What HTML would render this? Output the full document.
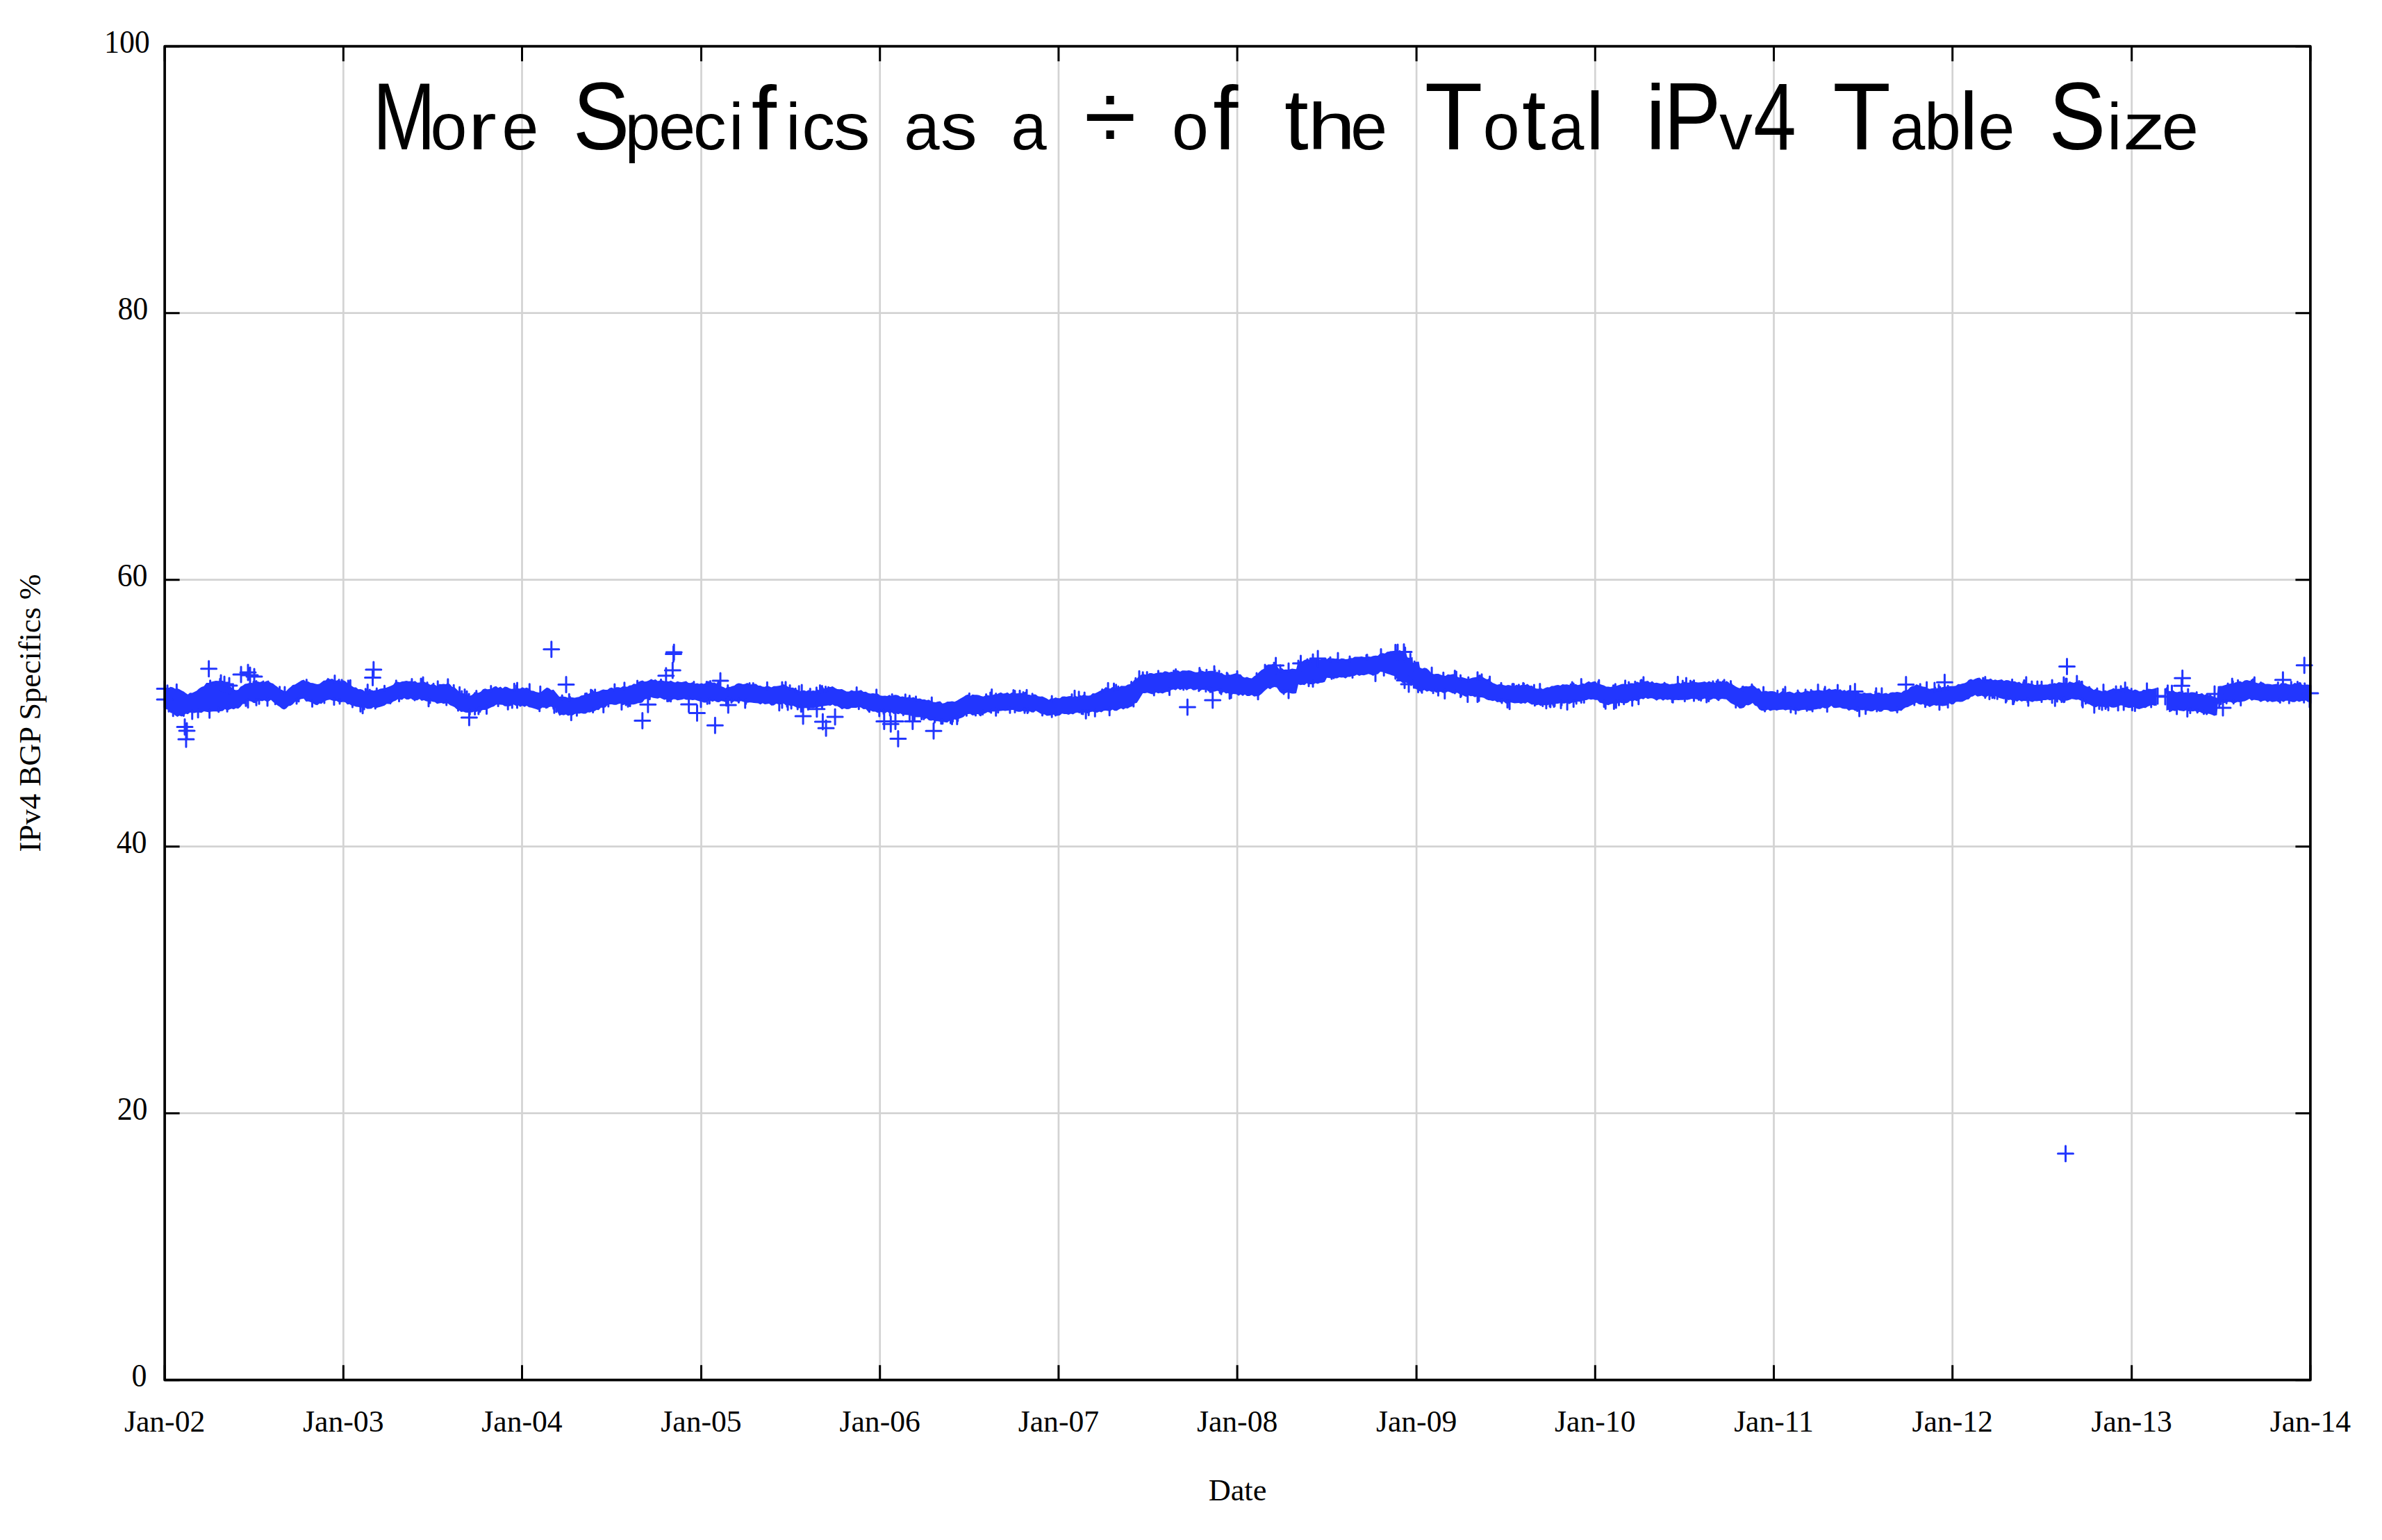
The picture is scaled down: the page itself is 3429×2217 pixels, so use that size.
<!DOCTYPE html>
<html><head><meta charset="utf-8"><title>More Specifics as a % of the Total IPv4 Table Size</title>
<style>html,body{margin:0;padding:0;background:#fff;width:3429px;height:2217px;overflow:hidden}svg{display:block}</style></head><body>
<svg width="3429" height="2217" viewBox="0 0 3429 2217">
<rect width="3429" height="2217" fill="#fff"/>
<path d="M494.3 66.7V1986.7M751.5 66.7V1986.7M1009.5 66.7V1986.7M1266.7 66.7V1986.7M1523.9 66.7V1986.7M1781.1 66.7V1986.7M2039.1 66.7V1986.7M2296.3 66.7V1986.7M2553.5 66.7V1986.7M2810.7 66.7V1986.7M3068.7 66.7V1986.7M237.1 1602.7H3325.9M237.1 1218.7H3325.9M237.1 834.7H3325.9M237.1 450.7H3325.9" stroke="#d3d3d3" stroke-width="2.7" fill="none"/>
<g font-family="Liberation Sans, Arial, sans-serif" fill="#000" stroke="#000" stroke-width="0.0" stroke-linejoin="round" text-anchor="middle">
<text y="215"><tspan x="582.0" font-size="137" textLength="90.3" lengthAdjust="spacingAndGlyphs">M</tspan><tspan x="646.0" font-size="95" textLength="52.8" lengthAdjust="spacingAndGlyphs">o</tspan><tspan x="694.3" font-size="95" textLength="41.1" lengthAdjust="spacingAndGlyphs">r</tspan><tspan x="748.9" font-size="95" textLength="52.8" lengthAdjust="spacingAndGlyphs">e</tspan></text>
<text y="215"><tspan x="865.4" font-size="137" textLength="81.5" lengthAdjust="spacingAndGlyphs">S</tspan><tspan x="925.2" font-size="95" textLength="50.7" lengthAdjust="spacingAndGlyphs">p</tspan><tspan x="974.6" font-size="95" textLength="52.8" lengthAdjust="spacingAndGlyphs">e</tspan><tspan x="1021.7" font-size="95" textLength="47.5" lengthAdjust="spacingAndGlyphs">c</tspan><tspan x="1059.8" font-size="95" textLength="21.1" lengthAdjust="spacingAndGlyphs">i</tspan><tspan x="1099.8" font-size="130" textLength="36.1" lengthAdjust="spacingAndGlyphs">f</tspan><tspan x="1141.7" font-size="95" textLength="21.1" lengthAdjust="spacingAndGlyphs">i</tspan><tspan x="1178.2" font-size="95" textLength="47.4" lengthAdjust="spacingAndGlyphs">c</tspan><tspan x="1226.1" font-size="95" textLength="52.9" lengthAdjust="spacingAndGlyphs">s</tspan></text>
<text y="215"><tspan x="1327.0" font-size="95" textLength="51.1" lengthAdjust="spacingAndGlyphs">a</tspan><tspan x="1380.3" font-size="95" textLength="53.0" lengthAdjust="spacingAndGlyphs">s</tspan></text>
<text y="215"><tspan x="1481.1" font-size="95" textLength="51.2" lengthAdjust="spacingAndGlyphs">a</tspan></text>
<text y="215"><tspan x="1598.0" font-size="137" textLength="75.2" lengthAdjust="spacingAndGlyphs">÷</tspan></text>
<text y="215"><tspan x="1713.4" font-size="95" textLength="52.8" lengthAdjust="spacingAndGlyphs">o</tspan><tspan x="1764.4" font-size="130" textLength="36.1" lengthAdjust="spacingAndGlyphs">f</tspan></text>
<text y="215"><tspan x="1866.3" font-size="125" textLength="34.7" lengthAdjust="spacingAndGlyphs">t</tspan><tspan x="1916.9" font-size="95" textLength="68.7" lengthAdjust="spacingAndGlyphs">h</tspan><tspan x="1970.7" font-size="95" textLength="52.8" lengthAdjust="spacingAndGlyphs">e</tspan></text>
<text y="215"><tspan x="2092.7" font-size="137" textLength="83.7" lengthAdjust="spacingAndGlyphs">T</tspan><tspan x="2161.1" font-size="95" textLength="52.8" lengthAdjust="spacingAndGlyphs">o</tspan><tspan x="2208.4" font-size="125" textLength="34.7" lengthAdjust="spacingAndGlyphs">t</tspan><tspan x="2255.2" font-size="95" textLength="50.1" lengthAdjust="spacingAndGlyphs">a</tspan><tspan x="2295.9" font-size="117" textLength="26.0" lengthAdjust="spacingAndGlyphs">l</tspan></text>
<text y="215"><tspan x="2383.5" font-size="132" textLength="29.3" lengthAdjust="spacingAndGlyphs">i</tspan><tspan x="2436.2" font-size="137" textLength="82.7" lengthAdjust="spacingAndGlyphs">P</tspan><tspan x="2498.9" font-size="95" textLength="47.5" lengthAdjust="spacingAndGlyphs">v</tspan><tspan x="2554.9" font-size="137" textLength="61.4" lengthAdjust="spacingAndGlyphs">4</tspan></text>
<text y="215"><tspan x="2680.2" font-size="137" textLength="83.7" lengthAdjust="spacingAndGlyphs">T</tspan><tspan x="2745.9" font-size="95" textLength="50.5" lengthAdjust="spacingAndGlyphs">a</tspan><tspan x="2796.5" font-size="95" textLength="52.8" lengthAdjust="spacingAndGlyphs">b</tspan><tspan x="2834.1" font-size="117" textLength="26.0" lengthAdjust="spacingAndGlyphs">l</tspan><tspan x="2873.8" font-size="95" textLength="52.8" lengthAdjust="spacingAndGlyphs">e</tspan></text>
<text y="215"><tspan x="2990.3" font-size="137" textLength="81.7" lengthAdjust="spacingAndGlyphs">S</tspan><tspan x="3043.8" font-size="95" textLength="21.1" lengthAdjust="spacingAndGlyphs">i</tspan><tspan x="3086.6" font-size="95" textLength="61.5" lengthAdjust="spacingAndGlyphs">z</tspan><tspan x="3138.4" font-size="95" textLength="52.8" lengthAdjust="spacingAndGlyphs">e</tspan></text>
</g>
<path d="M237.1 991.2 238.9 990.1 242.2 990.8 245.5 988.8 248.7 989.5 252.0 991.6 255.3 991.0 258.3 992.2 261.3 994.0 264.4 995.5 267.4 997.7 270.4 999.8 273.5 997.2 276.7 997.6 279.9 995.9 283.0 994.6 286.5 991.2 290.0 988.9 293.6 987.8 297.1 983.1 300.6 983.1 304.0 981.6 307.3 980.8 310.7 979.9 314.1 980.2 317.4 980.0 320.8 980.1 323.9 982.0 327.1 985.1 330.2 987.7 333.3 989.6 336.5 992.5 339.6 993.4 342.9 992.9 346.2 988.4 349.4 987.1 352.7 984.6 356.0 984.1 359.0 983.1 362.0 983.1 365.0 983.4 368.0 982.0 371.0 981.1 374.2 982.0 377.3 980.8 380.5 982.0 383.7 980.3 386.8 981.1 390.0 982.9 393.1 983.9 396.3 986.8 399.4 988.8 402.6 992.3 405.8 993.1 408.9 994.8 412.0 995.0 415.2 991.6 418.3 989.1 421.4 985.9 424.6 985.6 427.7 983.5 430.9 981.6 434.0 979.6 437.3 978.5 440.5 981.4 443.8 981.0 447.0 983.0 450.3 983.2 453.5 984.2 456.8 984.9 459.8 984.6 462.8 982.2 465.9 979.7 468.9 979.4 471.9 975.8 475.0 977.8 478.2 977.1 481.3 979.1 484.4 979.7 487.6 978.6 490.7 980.7 493.9 979.2 497.0 980.6 500.1 983.4 503.2 983.6 506.4 987.4 509.5 989.4 512.6 989.4 515.8 992.3 518.9 991.9 522.1 993.1 525.2 995.6 528.4 992.5 531.5 994.8 534.6 993.2 537.8 994.3 541.0 993.5 544.1 992.9 547.2 991.5 550.4 991.0 553.5 990.6 556.7 989.8 559.8 988.6 563.0 987.2 566.1 985.7 569.3 981.5 572.4 981.4 575.6 982.2 578.8 980.9 581.9 980.8 585.0 979.9 588.2 980.7 591.3 980.5 594.5 981.2 597.6 980.3 600.7 982.7 603.9 982.5 607.0 982.1 610.2 981.2 613.3 982.7 616.5 984.0 619.7 985.9 622.8 984.6 626.0 985.7 629.1 987.8 632.3 984.7 635.4 984.9 638.5 984.6 641.7 984.9 644.8 983.3 647.9 985.2 651.1 989.0 654.2 989.2 657.4 992.2 660.6 995.5 663.7 997.7 666.9 997.9 670.0 999.3 673.1 1000.4 676.3 1001.8 679.4 1000.5 682.6 997.6 685.8 997.2 688.9 997.3 692.1 995.7 695.2 992.3 698.4 991.3 701.5 992.3 704.7 992.0 707.8 991.2 711.0 988.7 714.1 987.8 717.2 990.3 720.4 988.4 723.5 990.9 726.7 988.5 729.9 988.9 733.0 990.7 736.1 991.7 739.3 991.4 742.4 991.3 745.6 991.1 748.8 991.2 751.9 989.2 755.1 990.7 758.2 989.7 761.5 991.2 764.8 994.3 768.0 994.6 771.3 996.1 774.6 996.7 777.8 997.2 780.9 994.4 784.1 992.0 787.2 989.8 790.4 990.8 793.6 993.6 796.8 992.8 800.0 996.8 805.2 1003.1 808.4 1002.5 811.5 1002.7 814.6 1003.2 817.8 1004.5 821.0 1003.4 824.1 1003.9 827.2 1004.6 830.4 1003.7 833.5 1003.3 836.7 1001.3 839.9 1000.7 843.0 999.0 846.1 998.9 849.3 997.8 852.5 997.8 855.6 995.6 858.8 996.1 861.9 995.2 865.0 993.7 868.2 992.4 871.4 993.1 874.5 993.0 877.6 990.4 880.8 989.8 883.9 991.5 887.1 989.3 890.2 989.2 893.4 990.1 896.5 987.9 899.7 988.2 902.9 988.8 906.0 986.7 909.1 986.4 912.2 984.2 915.4 984.8 918.5 982.0 921.6 980.6 924.8 979.5 928.0 981.2 931.1 980.7 934.2 979.6 937.4 977.5 940.5 978.9 943.7 978.0 946.9 980.4 950.0 979.5 953.1 979.6 956.3 980.6 959.5 980.5 962.6 981.0 965.8 979.8 968.9 981.4 972.0 982.4 975.2 980.7 978.4 981.7 981.5 982.0 984.6 981.2 987.8 980.6 990.9 983.0 994.1 983.2 997.2 982.1 1000.4 984.3 1003.5 983.5 1006.7 984.6 1009.9 983.6 1013.0 984.5 1016.1 983.3 1019.3 982.0 1022.4 981.3 1025.6 982.7 1028.8 982.4 1031.9 984.6 1035.0 987.2 1038.2 988.0 1041.3 988.9 1044.5 990.8 1047.7 988.5 1050.8 989.0 1054.0 987.8 1057.1 987.0 1060.2 984.5 1063.4 983.5 1066.5 984.0 1069.6 984.9 1072.7 984.4 1075.9 983.0 1079.0 985.3 1082.1 985.2 1085.2 984.6 1088.4 984.6 1091.5 986.9 1094.7 987.1 1097.8 988.6 1101.0 988.8 1104.1 987.0 1107.2 988.0 1110.4 989.4 1113.9 987.7 1117.4 987.8 1121.0 987.3 1124.5 986.5 1128.0 984.9 1131.4 986.8 1134.7 988.7 1138.1 990.0 1141.5 989.8 1144.8 991.4 1148.2 993.3 1151.4 994.9 1154.5 994.1 1157.7 993.7 1160.8 995.1 1164.0 993.3 1167.1 995.0 1170.2 993.9 1173.4 994.6 1176.5 992.2 1179.7 993.9 1182.8 992.3 1186.0 990.9 1189.1 990.9 1192.2 989.1 1195.4 988.9 1198.5 988.0 1201.9 990.2 1205.2 992.0 1208.6 992.2 1212.0 992.1 1215.3 993.7 1218.7 995.5 1222.2 995.4 1225.7 993.4 1229.3 994.7 1232.8 994.4 1236.3 994.3 1239.7 993.3 1243.0 996.0 1246.4 995.7 1249.8 997.7 1253.1 998.5 1256.5 997.9 1260.0 998.6 1263.5 998.5 1267.1 1001.3 1270.6 1001.8 1274.1 1001.5 1277.2 1002.1 1280.4 1000.3 1283.5 1002.4 1286.7 1000.6 1289.8 1000.3 1293.0 1001.1 1296.1 1003.0 1299.3 1002.6 1302.5 1003.4 1305.6 1004.1 1308.8 1003.0 1311.9 1004.6 1315.0 1003.5 1318.2 1005.3 1321.3 1005.8 1324.5 1005.6 1327.7 1006.9 1330.8 1006.8 1334.0 1008.0 1337.1 1007.3 1340.2 1009.2 1343.4 1010.5 1346.7 1011.1 1350.0 1009.9 1353.4 1009.6 1356.7 1012.8 1360.0 1012.1 1363.6 1010.1 1367.1 1010.1 1370.7 1009.4 1374.2 1010.2 1377.8 1008.6 1381.0 1006.4 1384.1 1004.8 1387.2 1003.1 1390.4 1000.7 1393.6 999.8 1396.7 1001.9 1399.8 999.7 1403.0 1000.3 1406.2 1000.2 1409.3 1000.7 1412.4 1002.1 1415.6 1002.7 1418.8 1001.0 1421.9 1000.8 1425.0 1001.4 1428.2 1000.9 1431.3 999.6 1434.5 999.7 1437.6 998.0 1440.8 996.7 1444.0 998.6 1447.1 998.1 1450.2 996.7 1453.4 998.9 1456.5 997.0 1459.7 996.3 1462.8 998.2 1466.0 997.9 1469.1 997.6 1472.3 997.9 1475.4 999.6 1478.5 1000.0 1481.7 1000.0 1484.8 1001.1 1488.0 999.5 1491.1 999.7 1494.2 1002.3 1497.4 1002.8 1500.5 1002.4 1503.7 1004.1 1506.8 1005.4 1510.0 1007.6 1513.2 1005.1 1516.3 1005.4 1519.5 1004.0 1522.6 1005.0 1525.8 1005.2 1528.9 1002.7 1532.1 1002.4 1535.2 1002.9 1538.3 1002.2 1541.5 1001.9 1544.7 1003.5 1547.8 1001.6 1550.9 1003.0 1554.1 1000.8 1557.2 1001.5 1560.4 999.6 1563.5 1001.2 1566.7 1001.4 1569.8 1000.9 1573.0 998.0 1576.1 998.3 1579.3 996.7 1582.5 994.9 1585.6 993.5 1588.8 992.1 1591.9 989.1 1595.1 990.7 1598.2 991.3 1601.3 989.1 1604.5 990.5 1607.7 989.5 1610.8 989.5 1614.0 987.3 1617.1 987.6 1620.2 987.4 1623.4 985.6 1626.5 985.0 1629.7 982.7 1633.1 978.6 1636.6 976.8 1640.0 973.0 1645.2 970.1 1648.4 971.1 1651.5 971.3 1654.7 969.0 1657.8 969.0 1661.0 969.9 1664.1 969.0 1667.2 968.5 1670.4 968.0 1673.6 968.3 1676.7 966.2 1679.8 966.7 1683.0 967.9 1686.2 966.9 1689.3 967.4 1692.4 965.5 1695.6 964.9 1698.8 967.0 1701.9 965.3 1705.0 965.3 1708.2 965.4 1711.3 965.1 1714.5 965.6 1717.6 966.7 1720.8 967.8 1724.0 967.8 1727.1 966.1 1730.2 965.5 1733.4 966.7 1736.5 966.9 1739.7 966.0 1742.8 965.7 1746.0 965.8 1749.1 967.9 1752.3 967.0 1755.4 969.5 1758.5 968.4 1761.7 971.0 1764.8 971.9 1768.0 970.8 1771.1 971.5 1775.5 970.2 1780.0 968.9 1783.0 970.6 1786.0 970.7 1789.0 974.3 1792.0 975.4 1795.0 974.6 1798.5 976.0 1802.0 976.4 1805.3 973.5 1808.7 971.8 1812.0 967.9 1816.0 964.6 1820.0 962.6 1822.0 957.3 1825.2 958.0 1828.4 958.4 1831.6 956.0 1834.8 956.1 1838.0 958.4 1842.0 964.1 1845.0 961.6 1848.0 964.0 1851.0 963.8 1854.0 964.1 1857.0 963.5 1860.0 962.4 1863.0 963.0 1866.0 963.2 1869.0 951.6 1872.0 952.9 1875.0 952.1 1878.0 949.9 1881.0 949.3 1884.0 949.5 1887.0 948.5 1890.3 948.2 1893.7 948.5 1897.0 948.6 1900.3 949.8 1903.7 948.0 1907.0 946.7 1910.0 949.0 1913.0 946.7 1916.0 947.8 1919.0 947.7 1922.0 948.3 1925.0 948.0 1928.0 948.9 1931.0 947.8 1934.0 948.1 1937.0 948.9 1940.0 948.8 1943.3 947.1 1946.7 947.6 1950.0 945.4 1953.3 945.4 1956.7 945.6 1960.0 945.0 1963.3 945.8 1966.7 945.9 1970.0 945.1 1973.3 945.6 1976.7 944.3 1980.0 943.7 1983.5 943.9 1987.0 940.4 1990.3 940.2 1993.7 940.8 1997.0 938.2 2000.4 938.0 2003.7 937.4 2007.5 936.8 2011.2 938.4 2015.0 935.8 2019.4 939.3 2023.8 938.7 2026.0 946.2 2029.8 947.5 2033.5 945.8 2034.0 953.9 2038.3 952.8 2042.6 952.5 2044.0 961.0 2047.3 962.5 2050.7 961.2 2054.0 962.3 2057.4 965.2 2060.7 969.2 2064.1 970.5 2067.5 970.1 2070.8 969.9 2074.2 971.6 2077.5 972.3 2080.9 972.9 2084.2 970.7 2087.6 971.2 2091.0 970.4 2094.3 970.2 2097.7 973.9 2101.0 975.4 2104.3 974.8 2107.7 975.8 2110.8 976.7 2113.8 977.8 2116.9 976.4 2120.0 975.5 2123.2 975.0 2126.5 974.4 2129.8 973.2 2133.0 973.4 2136.2 975.7 2139.3 977.5 2142.4 977.9 2145.6 980.4 2148.8 982.9 2151.9 984.3 2155.1 985.7 2158.2 985.1 2161.3 984.7 2164.5 986.3 2167.7 987.0 2170.8 985.9 2173.9 986.6 2177.1 987.7 2180.2 987.5 2183.3 985.4 2186.4 987.4 2189.6 986.3 2192.7 985.8 2195.8 986.0 2198.9 984.6 2202.1 987.3 2205.2 987.0 2208.4 989.8 2211.5 991.2 2214.7 991.5 2217.8 990.3 2221.0 991.9 2224.1 990.5 2227.2 989.2 2230.4 989.5 2233.6 987.5 2236.7 987.5 2239.8 986.4 2243.0 985.9 2246.2 986.9 2249.3 985.1 2252.4 985.4 2255.6 985.2 2258.8 986.1 2261.9 986.9 2265.0 985.4 2268.2 984.8 2271.3 986.2 2274.5 985.6 2277.7 983.4 2280.8 984.4 2283.9 982.6 2287.1 980.8 2290.2 982.6 2293.4 981.2 2296.5 980.8 2299.7 984.2 2302.8 984.8 2305.9 985.8 2309.1 986.8 2312.2 988.6 2315.3 988.4 2318.5 989.0 2321.6 988.3 2324.8 988.2 2327.9 986.9 2331.1 985.9 2334.2 984.7 2337.4 984.4 2340.5 984.7 2343.7 985.2 2346.8 983.4 2350.0 983.4 2353.2 984.1 2356.3 981.3 2359.4 982.6 2362.6 982.1 2365.8 981.1 2368.9 980.8 2372.1 979.9 2375.2 982.6 2378.3 980.4 2381.5 983.2 2384.7 982.7 2387.8 983.6 2390.9 984.3 2394.1 983.5 2397.2 983.1 2400.4 984.0 2403.6 985.2 2406.7 984.5 2409.8 984.4 2413.0 983.8 2416.2 982.3 2419.3 983.9 2422.5 982.0 2425.6 981.5 2428.8 982.7 2431.9 982.6 2435.1 980.8 2438.2 981.5 2441.3 982.1 2444.5 982.5 2447.6 982.2 2450.8 981.8 2453.9 981.1 2457.0 982.6 2460.2 980.5 2463.3 981.9 2466.4 981.5 2469.5 983.2 2472.7 981.3 2475.8 980.6 2478.9 981.6 2482.1 983.0 2485.2 980.2 2488.3 981.9 2491.5 986.2 2494.6 985.4 2497.8 987.8 2500.9 989.5 2504.1 990.7 2507.2 989.5 2510.4 988.3 2513.6 987.7 2516.7 988.3 2519.8 987.4 2523.0 985.9 2526.2 988.2 2529.3 991.3 2532.4 990.8 2535.6 995.6 2538.8 995.2 2541.9 994.6 2545.1 995.5 2548.2 995.0 2551.3 995.1 2554.5 995.4 2557.7 996.9 2560.8 998.2 2564.0 995.9 2567.1 995.5 2570.2 997.1 2573.4 996.0 2576.6 995.6 2579.7 996.8 2582.8 998.0 2586.0 996.3 2589.1 995.1 2592.3 996.9 2595.4 996.5 2598.6 994.7 2601.7 994.3 2604.8 995.4 2608.0 993.4 2611.1 994.2 2614.2 994.0 2617.4 992.8 2620.6 993.8 2623.7 994.3 2626.8 993.9 2630.0 993.1 2633.2 991.0 2636.3 993.0 2639.5 992.4 2642.6 991.8 2645.8 994.0 2648.9 992.0 2652.1 994.4 2655.2 993.1 2658.3 995.3 2661.5 992.9 2664.7 994.2 2667.8 996.7 2670.9 994.4 2674.1 995.4 2677.2 997.9 2680.4 998.3 2683.5 996.9 2686.7 998.1 2689.8 997.7 2693.0 997.4 2696.2 999.3 2699.3 999.0 2702.4 997.3 2705.6 997.0 2708.8 999.2 2711.9 998.2 2715.1 997.6 2718.2 998.9 2721.3 996.9 2724.5 996.5 2727.7 996.7 2730.8 995.9 2733.9 996.6 2737.1 997.3 2740.2 994.4 2743.3 993.8 2746.4 993.1 2749.6 989.4 2752.7 987.6 2755.8 987.2 2758.9 985.0 2762.1 986.5 2765.2 987.4 2768.4 988.6 2771.5 988.7 2774.7 990.7 2777.8 991.8 2781.0 991.1 2784.1 990.8 2787.2 991.0 2790.4 990.5 2793.6 990.2 2796.7 989.0 2799.8 988.5 2803.0 988.3 2806.2 987.7 2809.3 987.7 2812.4 987.8 2815.6 987.3 2818.8 984.7 2821.9 985.0 2825.0 983.9 2828.0 983.6 2831.1 982.1 2834.1 978.7 2837.2 977.6 2840.2 978.8 2843.3 977.2 2846.5 976.0 2849.7 975.6 2852.9 978.4 2856.1 977.8 2859.4 977.7 2862.6 978.1 2865.8 976.7 2869.0 979.2 2872.2 978.2 2875.3 979.3 2878.5 978.7 2881.6 977.9 2884.8 980.3 2887.9 979.1 2891.1 979.2 2894.2 980.4 2897.4 981.0 2900.5 980.8 2903.7 982.5 2906.8 981.6 2910.0 983.9 2913.2 983.4 2916.3 985.0 2919.4 983.2 2922.6 984.1 2925.8 984.6 2928.9 985.9 2932.1 985.8 2935.2 985.5 2938.3 985.1 2941.5 985.8 2944.7 985.5 2947.8 985.6 2950.9 984.3 2954.1 984.8 2957.2 983.3 2960.4 984.0 2963.6 982.1 2966.7 982.5 2969.8 983.1 2973.0 982.4 2976.2 983.7 2979.3 981.1 2982.4 982.3 2985.6 983.0 2988.8 981.3 2991.9 982.0 2995.1 984.5 2998.2 984.6 3001.4 986.9 3004.5 988.5 3007.7 988.6 3010.8 990.8 3014.0 993.3 3017.2 991.8 3020.4 993.4 3023.6 994.2 3026.8 995.3 3030.0 993.6 3033.2 994.7 3036.3 993.3 3039.5 992.3 3042.6 990.6 3045.8 992.4 3048.9 991.5 3052.1 991.7 3055.1 990.1 3058.2 990.2 3061.2 990.4 3064.3 991.7 3067.3 993.2 3070.4 993.9 3073.4 992.6 3076.5 993.6 3079.5 995.3 3082.5 994.9 3085.6 992.7 3088.6 993.3 3091.6 991.6 3094.7 991.8 3097.7 992.0 3101.2 991.3 3104.8 990.0 L3104.8 1015.8 3101.2 1015.9 3097.7 1014.8 3094.7 1016.1 3091.6 1017.2 3088.6 1019.2 3085.6 1018.9 3082.5 1020.1 3079.5 1020.9 3076.5 1020.3 3073.4 1018.9 3070.4 1017.5 3067.3 1019.0 3064.3 1019.2 3061.2 1018.3 3058.2 1018.1 3055.1 1015.6 3052.1 1015.6 3048.9 1017.0 3045.8 1018.3 3042.6 1018.7 3039.5 1018.4 3036.3 1017.1 3033.2 1019.5 3030.0 1018.1 3026.8 1017.5 3023.6 1017.5 3020.4 1016.6 3017.2 1018.3 3014.0 1017.6 3010.8 1015.8 3007.7 1013.9 3004.5 1013.2 3001.4 1011.5 2998.2 1009.0 2995.1 1008.6 2991.9 1006.9 2988.8 1007.5 2985.6 1006.8 2982.4 1006.2 2979.3 1007.6 2976.2 1008.5 2973.0 1008.7 2969.8 1008.4 2966.7 1009.6 2963.6 1007.2 2960.4 1008.4 2957.2 1007.1 2954.1 1007.3 2950.9 1008.2 2947.8 1007.2 2944.7 1008.0 2941.5 1007.9 2938.3 1008.9 2935.2 1009.1 2932.1 1009.6 2928.9 1009.3 2925.8 1010.7 2922.6 1009.7 2919.4 1008.2 2916.3 1009.2 2913.2 1009.1 2910.0 1010.1 2906.8 1008.1 2903.7 1010.2 2900.5 1008.3 2897.4 1008.7 2894.2 1007.2 2891.1 1008.1 2887.9 1005.5 2884.8 1006.7 2881.6 1005.7 2878.5 1004.9 2875.3 1003.6 2872.2 1002.0 2869.0 1002.1 2865.8 1002.9 2862.6 1001.2 2859.4 1003.4 2856.1 1003.2 2852.9 1001.4 2849.7 1002.2 2846.5 1002.7 2843.3 1000.5 2840.2 1002.5 2837.2 1003.2 2834.1 1006.8 2831.1 1007.1 2828.0 1008.7 2825.0 1010.3 2821.9 1010.6 2818.8 1010.2 2815.6 1010.6 2812.4 1013.7 2809.3 1014.3 2806.2 1012.6 2803.0 1015.4 2799.8 1015.9 2796.7 1016.6 2793.6 1016.1 2790.4 1015.6 2787.2 1016.0 2784.1 1014.9 2781.0 1016.3 2777.8 1018.0 2774.7 1015.8 2771.5 1016.4 2768.4 1013.4 2765.2 1014.5 2762.1 1013.7 2758.9 1011.4 2755.8 1013.3 2752.7 1014.7 2749.6 1016.3 2746.4 1018.0 2743.3 1018.6 2740.2 1020.6 2737.1 1023.6 2733.9 1022.8 2730.8 1024.5 2727.7 1023.8 2724.5 1024.6 2721.3 1024.6 2718.2 1022.6 2715.1 1022.0 2711.9 1022.1 2708.8 1024.5 2705.6 1024.7 2702.4 1022.4 2699.3 1022.0 2696.2 1024.1 2693.0 1024.3 2689.8 1023.3 2686.7 1023.5 2683.5 1022.3 2680.4 1022.5 2677.2 1022.0 2674.1 1021.8 2670.9 1023.7 2667.8 1021.7 2664.7 1021.8 2661.5 1023.3 2658.3 1020.6 2655.2 1020.6 2652.1 1019.9 2648.9 1018.6 2645.8 1018.7 2642.6 1019.3 2639.5 1019.0 2636.3 1015.9 2633.2 1018.5 2630.0 1019.7 2626.8 1019.8 2623.7 1018.6 2620.6 1020.8 2617.4 1020.4 2614.2 1021.2 2611.1 1021.6 2608.0 1023.0 2604.8 1023.0 2601.7 1022.8 2598.6 1021.8 2595.4 1022.1 2592.3 1022.6 2589.1 1023.8 2586.0 1023.1 2582.8 1023.3 2579.7 1022.2 2576.6 1021.8 2573.4 1021.7 2570.2 1022.8 2567.1 1021.5 2564.0 1021.7 2560.8 1021.9 2557.7 1022.9 2554.5 1021.9 2551.3 1022.4 2548.2 1023.4 2545.1 1021.4 2541.9 1022.9 2538.8 1023.3 2535.6 1023.1 2532.4 1021.3 2529.3 1016.8 2526.2 1015.8 2523.0 1011.9 2519.8 1014.3 2516.7 1015.4 2513.6 1015.1 2510.4 1018.8 2507.2 1019.8 2504.1 1019.9 2500.9 1016.8 2497.8 1015.2 2494.6 1013.7 2491.5 1012.3 2488.3 1009.6 2485.2 1006.8 2482.1 1006.6 2478.9 1006.1 2475.8 1006.9 2472.7 1008.4 2469.5 1005.9 2466.4 1005.8 2463.3 1007.3 2460.2 1008.2 2457.0 1006.9 2453.9 1005.6 2450.8 1006.7 2447.6 1007.6 2444.5 1007.2 2441.3 1006.4 2438.2 1006.3 2435.1 1006.0 2431.9 1006.9 2428.8 1007.8 2425.6 1007.3 2422.5 1007.8 2419.3 1007.7 2416.2 1008.1 2413.0 1007.7 2409.8 1008.0 2406.7 1007.9 2403.6 1007.0 2400.4 1007.7 2397.2 1006.8 2394.1 1008.8 2390.9 1006.4 2387.8 1006.8 2384.7 1008.7 2381.5 1006.6 2378.3 1005.3 2375.2 1005.2 2372.1 1006.3 2368.9 1004.6 2365.8 1006.7 2362.6 1005.8 2359.4 1007.5 2356.3 1009.6 2353.2 1007.9 2350.0 1010.2 2346.8 1008.7 2343.7 1011.4 2340.5 1012.4 2337.4 1012.2 2334.2 1012.3 2331.1 1010.9 2327.9 1012.9 2324.8 1012.3 2321.6 1013.1 2318.5 1013.8 2315.3 1015.2 2312.2 1014.5 2309.1 1013.5 2305.9 1012.3 2302.8 1011.5 2299.7 1007.7 2296.5 1007.7 2293.4 1006.8 2290.2 1007.3 2287.1 1006.4 2283.9 1008.0 2280.8 1007.9 2277.7 1008.9 2274.5 1010.3 2271.3 1010.1 2268.2 1011.4 2265.0 1010.8 2261.9 1012.3 2258.8 1013.7 2255.6 1011.4 2252.4 1012.8 2249.3 1012.8 2246.2 1011.9 2243.0 1012.9 2239.8 1013.2 2236.7 1014.5 2233.6 1014.3 2230.4 1014.1 2227.2 1015.4 2224.1 1015.3 2221.0 1014.9 2217.8 1016.2 2214.7 1014.5 2211.5 1015.5 2208.4 1014.0 2205.2 1014.4 2202.1 1012.8 2198.9 1010.8 2195.8 1013.0 2192.7 1012.0 2189.6 1013.2 2186.4 1012.0 2183.3 1012.2 2180.2 1012.4 2177.1 1011.7 2173.9 1010.9 2170.8 1013.1 2167.7 1012.7 2164.5 1010.1 2161.3 1011.8 2158.2 1010.6 2155.1 1011.1 2151.9 1008.4 2148.8 1009.3 2145.6 1008.2 2142.4 1008.0 2139.3 1006.7 2136.2 1004.7 2133.0 1003.9 2129.8 1004.0 2126.5 1002.5 2123.2 1003.8 2120.0 1002.0 2116.9 1002.2 2113.8 1001.0 2110.8 1003.2 2107.7 1002.0 2104.3 999.9 2101.0 999.3 2097.7 997.3 2094.3 998.3 2091.0 998.2 2087.6 996.4 2084.2 995.5 2080.9 997.3 2077.5 997.7 2074.2 995.9 2070.8 996.3 2067.5 997.3 2064.1 995.1 2060.7 996.0 2057.4 994.4 2054.0 995.7 2050.7 993.6 2047.3 994.4 2044.0 995.3 2042.6 994.4 2038.3 991.7 2034.0 991.2 2033.5 983.8 2029.8 984.9 2026.0 983.7 2023.8 982.4 2019.4 983.4 2015.0 979.8 2011.2 977.8 2007.5 973.3 2003.7 972.3 2000.4 970.9 1997.0 970.1 1993.7 968.8 1990.3 967.6 1987.0 967.0 1983.5 970.4 1980.0 970.9 1976.7 972.9 1973.3 971.2 1970.0 970.3 1966.7 971.2 1963.3 972.2 1960.0 971.8 1956.7 973.1 1953.3 971.2 1950.0 972.9 1946.7 973.1 1943.3 974.5 1940.0 974.6 1937.0 976.8 1934.0 975.2 1931.0 975.5 1928.0 975.0 1925.0 976.5 1922.0 976.4 1919.0 974.4 1916.0 976.6 1913.0 976.1 1910.0 975.8 1907.0 981.8 1903.7 982.8 1900.3 982.9 1897.0 984.4 1893.7 983.6 1890.3 985.5 1887.0 984.9 1884.0 985.3 1881.0 983.5 1878.0 986.2 1875.0 985.8 1872.0 986.2 1869.0 985.3 1866.0 998.1 1863.0 998.4 1860.0 998.5 1857.0 997.8 1854.0 996.6 1851.0 997.7 1848.0 998.9 1845.0 998.3 1842.0 995.8 1838.0 989.7 1834.8 989.1 1831.6 990.1 1828.4 992.2 1825.2 990.6 1822.0 993.3 1820.0 995.1 1816.0 999.1 1812.0 1002.1 1808.7 1002.2 1805.3 1002.7 1802.0 1000.6 1798.5 1001.9 1795.0 1002.0 1792.0 999.8 1789.0 1002.1 1786.0 999.7 1783.0 1001.8 1780.0 999.5 1775.5 998.9 1771.1 1001.0 1768.0 997.7 1764.8 998.4 1761.7 996.3 1758.5 998.0 1755.4 995.4 1752.3 994.4 1749.1 995.6 1746.0 996.0 1742.8 995.6 1739.7 995.5 1736.5 992.7 1733.4 993.2 1730.2 993.0 1727.1 994.9 1724.0 991.9 1720.8 993.6 1717.6 993.8 1714.5 991.6 1711.3 991.9 1708.2 994.0 1705.0 991.3 1701.9 991.9 1698.8 993.4 1695.6 991.2 1692.4 993.7 1689.3 992.5 1686.2 993.3 1683.0 996.4 1679.8 995.9 1676.7 997.1 1673.6 998.6 1670.4 997.5 1667.2 998.3 1664.1 996.8 1661.0 999.5 1657.8 999.3 1654.7 998.3 1651.5 997.2 1648.4 998.1 1645.2 998.1 1640.0 1006.6 1636.6 1011.7 1633.1 1012.7 1629.7 1017.1 1626.5 1018.1 1623.4 1020.0 1620.2 1019.4 1617.1 1021.5 1614.0 1019.7 1610.8 1021.3 1607.7 1023.2 1604.5 1023.3 1601.3 1021.6 1598.2 1023.8 1595.1 1023.6 1591.9 1023.1 1588.8 1023.2 1585.6 1025.5 1582.5 1024.6 1579.3 1025.9 1576.1 1025.5 1573.0 1024.6 1569.8 1024.9 1566.7 1027.3 1563.5 1026.4 1560.4 1025.8 1557.2 1025.8 1554.1 1027.1 1550.9 1025.7 1547.8 1026.6 1544.7 1028.4 1541.5 1027.5 1538.3 1028.9 1535.2 1028.1 1532.1 1028.0 1528.9 1027.3 1525.8 1029.8 1522.6 1030.6 1519.5 1030.3 1516.3 1028.7 1513.2 1029.8 1510.0 1030.2 1506.8 1030.5 1503.7 1028.5 1500.5 1028.4 1497.4 1027.0 1494.2 1024.9 1491.1 1023.3 1488.0 1025.7 1484.8 1025.5 1481.7 1023.8 1478.5 1023.9 1475.4 1025.0 1472.3 1023.4 1469.1 1024.7 1466.0 1024.8 1462.8 1024.0 1459.7 1022.3 1456.5 1022.1 1453.4 1022.8 1450.2 1022.9 1447.1 1023.6 1444.0 1023.1 1440.8 1023.5 1437.6 1023.7 1434.5 1023.0 1431.3 1024.6 1428.2 1024.3 1425.0 1025.9 1421.9 1024.9 1418.8 1026.8 1415.6 1028.1 1412.4 1027.8 1409.3 1028.6 1406.2 1027.9 1403.0 1029.5 1399.8 1030.0 1396.7 1027.8 1393.6 1028.0 1390.4 1028.7 1387.2 1032.0 1384.1 1033.6 1381.0 1034.5 1377.8 1037.3 1374.2 1035.4 1370.7 1038.3 1367.1 1037.5 1363.6 1040.3 1360.0 1039.7 1356.7 1039.0 1353.4 1039.1 1350.0 1038.2 1346.7 1038.6 1343.4 1036.9 1340.2 1037.6 1337.1 1036.9 1334.0 1034.0 1330.8 1035.4 1327.7 1032.6 1324.5 1032.4 1321.3 1032.4 1318.2 1032.4 1315.0 1030.5 1311.9 1030.8 1308.8 1029.4 1305.6 1029.2 1302.5 1029.1 1299.3 1029.0 1296.1 1027.0 1293.0 1028.2 1289.8 1027.0 1286.7 1028.1 1283.5 1025.5 1280.4 1026.7 1277.2 1024.7 1274.1 1027.1 1270.6 1025.7 1267.1 1024.9 1263.5 1026.3 1260.0 1024.4 1256.5 1024.6 1253.1 1023.0 1249.8 1024.7 1246.4 1020.8 1243.0 1021.1 1239.7 1018.8 1236.3 1017.6 1232.8 1018.9 1229.3 1019.0 1225.7 1019.1 1222.2 1020.8 1218.7 1021.0 1215.3 1019.7 1212.0 1021.3 1208.6 1018.5 1205.2 1016.5 1201.9 1016.5 1198.5 1014.3 1195.4 1016.1 1192.2 1015.5 1189.1 1016.1 1186.0 1016.6 1182.8 1017.2 1179.7 1017.5 1176.5 1018.2 1173.4 1018.7 1170.2 1019.6 1167.1 1019.1 1164.0 1020.7 1160.8 1019.2 1157.7 1019.4 1154.5 1019.9 1151.4 1019.6 1148.2 1019.5 1144.8 1017.6 1141.5 1016.0 1138.1 1016.3 1134.7 1015.1 1131.4 1015.5 1128.0 1012.7 1124.5 1014.1 1121.0 1014.0 1117.4 1012.9 1113.9 1015.4 1110.4 1015.8 1107.2 1012.9 1104.1 1013.5 1101.0 1013.9 1097.8 1012.2 1094.7 1014.3 1091.5 1012.5 1088.4 1012.3 1085.2 1012.1 1082.1 1011.5 1079.0 1011.3 1075.9 1011.8 1072.7 1011.3 1069.6 1010.2 1066.5 1009.3 1063.4 1011.0 1060.2 1010.0 1057.1 1009.6 1054.0 1011.4 1050.8 1009.0 1047.7 1009.9 1044.5 1011.0 1041.3 1009.7 1038.2 1009.3 1035.0 1010.9 1031.9 1010.7 1028.8 1008.9 1025.6 1010.3 1022.4 1008.7 1019.3 1009.5 1016.1 1011.5 1013.0 1011.6 1009.9 1010.0 1006.7 1009.4 1003.5 1008.6 1000.4 1007.5 997.2 1008.1 994.1 1007.5 990.9 1007.6 987.8 1007.6 984.6 1006.2 981.5 1007.2 978.4 1007.7 975.2 1008.3 972.0 1006.7 968.9 1006.8 965.8 1009.3 962.6 1008.7 959.5 1006.7 956.3 1007.6 953.1 1006.0 950.0 1004.6 946.9 1005.7 943.7 1005.3 940.5 1004.8 937.4 1003.8 934.2 1005.8 931.1 1006.3 928.0 1007.1 924.8 1011.2 921.6 1012.2 918.5 1012.3 915.4 1013.4 912.2 1014.3 909.1 1014.3 906.0 1014.1 902.9 1015.0 899.7 1013.9 896.5 1015.2 893.4 1012.8 890.2 1013.6 887.1 1014.8 883.9 1014.7 880.8 1014.0 877.6 1013.9 874.5 1015.1 871.4 1018.5 868.2 1019.1 865.0 1018.8 861.9 1022.3 858.8 1021.9 855.6 1024.1 852.5 1024.2 849.3 1025.7 846.1 1025.6 843.0 1027.4 839.9 1027.4 836.7 1026.8 833.5 1027.5 830.4 1027.1 827.2 1028.0 824.1 1029.9 821.0 1029.6 817.8 1030.5 814.6 1028.4 811.5 1029.7 808.4 1028.9 805.2 1030.4 800.0 1019.6 796.8 1019.6 793.6 1017.2 790.4 1018.1 787.2 1017.1 784.1 1019.0 780.9 1018.5 777.8 1020.5 774.6 1022.0 771.3 1020.8 768.0 1019.7 764.8 1018.7 761.5 1018.3 758.2 1016.0 755.1 1017.8 751.9 1016.0 748.8 1017.7 745.6 1015.0 742.4 1016.0 739.3 1014.3 736.1 1015.9 733.0 1016.7 729.9 1016.7 726.7 1016.7 723.5 1014.7 720.4 1014.5 717.2 1014.3 714.1 1014.6 711.0 1017.0 707.8 1018.0 704.7 1019.4 701.5 1021.1 698.4 1021.9 695.2 1021.9 692.1 1023.5 688.9 1022.9 685.8 1025.0 682.6 1024.3 679.4 1025.8 676.3 1025.0 673.1 1026.1 670.0 1025.8 666.9 1024.4 663.7 1024.9 660.6 1022.3 657.4 1021.0 654.2 1017.9 651.1 1016.6 647.9 1015.2 644.8 1012.7 641.7 1012.6 638.5 1013.2 635.4 1012.0 632.3 1012.4 629.1 1013.3 626.0 1010.7 622.8 1010.2 619.7 1009.2 616.5 1009.9 613.3 1009.4 610.2 1008.0 607.0 1009.1 603.9 1006.2 600.7 1008.3 597.6 1008.0 594.5 1007.8 591.3 1005.6 588.2 1007.0 585.0 1007.0 581.9 1005.1 578.8 1007.5 575.6 1006.9 572.4 1006.8 569.3 1008.7 566.1 1009.9 563.0 1012.5 559.8 1013.6 556.7 1013.3 553.5 1015.7 550.4 1016.7 547.2 1017.7 544.1 1018.4 541.0 1019.6 537.8 1017.9 534.6 1020.3 531.5 1020.6 528.4 1020.6 525.2 1018.5 522.1 1018.9 518.9 1018.5 515.8 1017.7 512.6 1017.4 509.5 1016.3 506.4 1016.0 503.2 1013.7 500.1 1014.2 497.0 1011.1 493.9 1010.4 490.7 1010.9 487.6 1011.0 484.4 1009.0 481.3 1009.3 478.2 1008.5 475.0 1007.3 471.9 1007.8 468.9 1008.8 465.9 1010.2 462.8 1013.3 459.8 1012.7 456.8 1015.3 453.5 1014.5 450.3 1012.3 447.0 1010.8 443.8 1009.8 440.5 1009.9 437.3 1005.7 434.0 1006.3 430.9 1007.2 427.7 1009.6 424.6 1010.4 421.4 1014.1 418.3 1016.1 415.2 1016.4 412.0 1020.0 408.9 1021.4 405.8 1020.3 402.6 1017.4 399.4 1015.4 396.3 1013.0 393.1 1010.4 390.0 1007.6 386.8 1009.8 383.7 1010.0 380.5 1008.3 377.3 1009.5 374.2 1008.8 371.0 1009.4 368.0 1012.2 365.0 1012.1 362.0 1010.1 359.0 1009.2 356.0 1009.1 352.7 1013.4 349.4 1013.6 346.2 1017.6 342.9 1020.2 339.6 1019.5 336.5 1021.2 333.3 1020.3 330.2 1021.6 327.1 1023.0 323.9 1020.8 320.8 1023.5 317.4 1023.9 314.1 1024.5 310.7 1024.2 307.3 1024.2 304.0 1024.6 300.6 1025.6 297.1 1024.7 293.6 1024.1 290.0 1026.3 286.5 1025.7 283.0 1025.8 279.9 1026.5 276.7 1026.2 273.5 1025.7 270.4 1028.3 267.4 1027.5 264.4 1030.3 261.3 1031.5 258.3 1030.2 255.3 1031.9 252.0 1029.7 248.7 1026.7 245.5 1026.3 242.2 1021.7 238.9 1021.1 237.1 1020.1ZM3118.5 992.8 3121.7 994.6 3124.8 995.1 3128.0 993.6 3131.1 996.1 3134.3 996.5 3137.4 995.4 3140.6 995.9 3143.8 997.0 3147.1 996.4 3150.3 998.0 3153.6 996.4 3156.8 996.6 3160.1 996.9 3163.4 998.9 3166.6 998.9 3169.9 997.8 3173.2 1000.4 3176.4 999.2 3179.7 1000.8 3183.6 1001.8 3187.5 1002.9 3191.4 1004.7 3192.7 987.9 3195.8 987.5 3198.9 987.5 3202.0 986.6 3205.1 985.4 3208.1 984.8 3211.2 983.9 3214.3 984.4 3217.4 982.4 3220.9 981.7 3224.3 980.6 3227.8 982.0 3231.3 979.5 3234.7 978.9 3238.2 979.9 3241.4 980.3 3244.7 981.6 3247.9 982.8 3251.2 983.7 3254.4 981.9 3257.7 982.5 3261.0 984.8 3264.2 984.4 3267.5 984.7 3270.8 985.4 3274.0 985.1 3277.3 984.6 3280.6 986.4 3283.8 983.3 3287.1 983.8 3290.3 983.6 3293.6 985.1 3296.8 985.6 3300.1 985.2 3303.3 982.9 3306.5 983.9 3309.8 983.2 3313.0 985.1 3316.2 986.3 3319.4 985.5 3322.7 985.6 3325.9 986.4 L3325.9 1008.8 3322.7 1011.0 3319.4 1008.6 3316.2 1008.9 3313.0 1009.2 3309.8 1010.4 3306.5 1009.0 3303.3 1010.7 3300.1 1010.8 3296.8 1009.7 3293.6 1008.8 3290.3 1008.8 3287.1 1010.7 3283.8 1008.9 3280.6 1011.2 3277.3 1009.5 3274.0 1010.2 3270.8 1010.8 3267.5 1009.3 3264.2 1010.9 3261.0 1008.6 3257.7 1009.1 3254.4 1010.8 3251.2 1008.6 3247.9 1008.1 3244.7 1007.5 3241.4 1008.8 3238.2 1005.9 3234.7 1008.0 3231.3 1009.5 3227.8 1009.9 3224.3 1010.9 3220.9 1010.5 3217.4 1011.9 3214.3 1012.2 3211.2 1010.7 3208.1 1010.5 3205.1 1011.2 3202.0 1012.3 3198.9 1010.7 3195.8 1012.5 3192.7 1013.7 3191.4 1029.4 3187.5 1030.5 3183.6 1028.7 3179.7 1027.6 3176.4 1028.0 3173.2 1027.2 3169.9 1026.7 3166.6 1024.7 3163.4 1025.9 3160.1 1023.5 3156.8 1024.3 3153.6 1023.8 3150.3 1023.9 3147.1 1022.6 3143.8 1024.0 3140.6 1023.6 3137.4 1023.1 3134.3 1022.1 3131.1 1023.7 3128.0 1023.0 3124.8 1023.0 3121.7 1021.9 3118.5 1022.9Z" fill="#2236fe"/>
<path d="M241.0 994.4v-7.7M243.0 1019.6v4.7M249.2 1023.8v6.9M254.3 994.0v-8.7M264.4 1025.6v4.9M276.7 1022.2v12.8M285.1 1020.7v12.1M301.6 1021.6v11.7M302.6 985.4v-5.6M314.7 1019.1v5.6M316.8 983.5v-6.2M327.1 1017.6v6.6M329.2 989.7v-5.6M335.4 994.7v-9.9M353.9 1007.8v8.5M357.0 1006.5v12.1M365.0 986.2v-4.7M369.0 985.9v-5.3M369.0 1006.7v8.6M373.0 1006.4v6.8M379.0 985.7v-4.7M385.0 1004.7v11.3M386.0 985.7v-4.7M396.3 1008.7v5.0M402.6 995.0v-6.2M409.9 998.9v-9.9M427.0 1006.2v6.7M430.0 1004.2v5.5M441.3 985.1v-6.6M449.5 1008.5v8.7M466.9 1006.6v5.5M480.9 1005.4v9.1M481.9 982.2v-9.6M488.0 983.1v-4.6M489.0 1006.7v6.4M492.0 983.7v-4.9M501.2 987.2v-7.4M502.2 987.8v-5.1M504.3 989.2v-9.9M507.4 1012.0v6.0M518.9 1014.8v9.5M522.1 1015.1v11.7M524.2 1015.4v5.6M526.2 998.2v-6.4M529.2 997.9v-12.4M532.3 997.6v-4.6M540.3 1014.6v5.4M542.3 996.6v-5.5M553.5 994.3v-7.1M561.9 1007.9v4.7M570.3 986.8v-7.0M574.5 1003.0v6.6M592.9 985.0v-7.5M597.0 1003.0v4.9M606.0 985.7v-8.8M609.0 986.2v-11.1M615.0 987.8v-5.2M617.0 1006.1v10.7M619.0 1006.5v5.5M624.0 990.3v-6.0M630.2 990.2v-9.4M642.7 1009.1v5.8M644.8 988.2v-10.5M653.2 993.8v-7.5M659.5 1018.0v5.0M661.6 999.4v-10.1M664.8 1001.2v-6.2M669.0 1002.9v-10.3M672.1 1004.2v-8.9M675.2 1005.5v-6.6M676.3 1021.8v6.8M683.6 1002.4v-4.6M683.6 1020.3v8.2M685.8 1001.5v-7.1M688.9 1019.3v8.6M691.0 1018.8v5.8M700.5 1016.2v11.2M706.8 994.7v-7.1M717.1 1011.7v4.7M731.2 1011.7v9.6M737.3 1011.7v7.2M740.3 994.5v-10.3M743.5 994.5v-7.8M744.5 994.5v-11.5M744.5 1012.1v7.0M762.3 996.4v-11.6M776.7 1017.2v6.6M777.8 999.8v-11.5M786.2 1013.4v5.3M788.3 1013.2v4.8M796.8 1014.9v5.3M797.9 1015.1v11.2M801.0 1017.5v7.2M809.2 1007.5v-6.5M819.3 1008.0v-8.7M820.3 1008.0v-5.0M822.3 1024.9v11.8M830.4 1024.5v5.7M842.5 1004.3v-5.8M844.5 1003.6v-5.3M850.6 1001.5v-8.5M852.6 1000.8v-6.8M853.6 1000.4v-4.6M853.6 1019.8v5.6M856.6 999.5v-6.7M868.7 1014.2v11.2M875.8 1011.4v5.7M884.8 994.3v-9.3M894.9 1010.1v11.5M898.9 992.9v-10.1M901.0 1010.4v4.7M904.0 1010.5v6.7M907.0 1010.5v5.9M917.5 986.4v-6.4M935.3 1000.4v6.0M951.5 983.5v-5.3M960.6 1003.9v5.6M962.6 1004.3v4.9M965.6 1004.1v5.7M998.9 987.0v-5.5M1009.0 1006.2v11.6M1017.2 987.6v-6.2M1018.2 1006.3v6.9M1019.3 987.1v-5.3M1021.4 1006.0v6.7M1022.4 986.5v-6.1M1033.0 989.3v-5.3M1034.0 989.8v-9.3M1045.5 1006.7v9.0M1047.7 993.4v-7.0M1052.9 1006.3v4.9M1063.4 1005.6v5.6M1072.7 1006.6v12.3M1073.8 1006.7v6.5M1079.0 988.8v-5.3M1084.2 989.4v-6.0M1104.4 992.4v-10.1M1121.8 1009.7v13.0M1125.9 988.8v-6.9M1125.9 1009.4v9.7M1131.0 989.7v-7.9M1133.0 1010.8v6.4M1134.1 1011.1v11.0M1137.1 992.7v-6.1M1139.1 1012.7v7.4M1145.2 996.8v-5.5M1148.2 1015.5v5.6M1150.2 998.3v-10.5M1153.2 1015.5v9.0M1154.2 998.3v-12.3M1163.3 1015.5v6.0M1166.3 998.3v-6.7M1175.4 997.9v-8.2M1175.4 1015.2v5.4M1180.4 996.9v-10.4M1181.4 996.7v-6.2M1183.4 996.3v-8.7M1183.4 1014.0v6.7M1184.4 996.1v-5.6M1188.5 995.3v-6.8M1192.5 994.5v-5.2M1233.2 997.5v-8.1M1236.3 1014.2v6.5M1251.5 1019.9v4.9M1261.7 1003.7v-11.0M1265.8 1021.8v9.1M1272.0 1021.8v5.8M1281.2 1022.5v7.5M1284.2 1005.1v-5.5M1300.3 1024.5v5.1M1303.3 1006.5v-6.8M1309.4 1007.4v-6.0M1309.4 1026.3v12.5M1315.4 1027.6v7.3M1316.4 1027.8v9.7M1318.5 1008.7v-5.9M1326.6 1029.8v5.7M1329.8 1030.4v5.0M1341.3 1013.0v-9.0M1345.5 1033.6v6.4M1354.8 1035.7v6.0M1356.9 1036.2v5.6M1368.4 1034.5v6.4M1370.5 1034.0v8.4M1371.5 1033.7v5.0M1377.8 1031.9v10.5M1378.8 1031.4v6.6M1391.4 1025.5v4.7M1395.4 1004.9v-6.7M1404.5 1024.1v6.0M1410.6 1023.5v5.4M1411.6 1023.4v6.3M1414.6 1023.1v5.5M1419.6 1005.3v-5.9M1425.7 1004.3v-7.2M1426.7 1021.4v4.7M1427.7 1004.0v-11.5M1433.7 1003.1v-4.7M1433.7 1020.3v10.0M1436.8 1019.9v5.8M1453.9 1019.3v7.0M1458.9 1001.1v-7.7M1461.0 1001.0v-6.6M1461.0 1019.3v6.2M1468.0 1001.1v-6.9M1473.0 1001.9v-5.3M1475.0 1019.7v6.6M1476.0 1002.3v-5.0M1478.0 1002.6v-9.4M1479.1 1019.9v6.6M1480.1 1020.0v4.9M1486.1 1003.8v-5.0M1500.5 1023.7v6.3M1514.2 1010.1v-8.2M1514.2 1026.2v6.0M1519.5 1025.5v4.6M1543.0 1006.4v-6.8M1547.0 1006.2v-12.0M1553.1 1005.9v-10.1M1557.1 1022.9v4.6M1559.1 1022.8v5.1M1561.2 1004.8v-7.8M1563.2 1022.6v11.7M1567.2 1022.4v7.0M1576.3 1021.9v9.4M1586.7 997.6v-5.1M1595.1 994.3v-11.1M1597.2 1018.9v10.9M1603.5 993.8v-9.9M1606.6 993.6v-7.9M1609.8 993.4v-5.1M1628.7 987.4v-5.8M1631.8 1011.0v5.9M1634.8 982.0v-5.8M1640.0 976.9v-10.6M1645.2 974.5v-6.8M1651.2 973.9v-6.5M1661.3 994.2v6.9M1667.4 972.3v-6.6M1683.5 990.9v9.5M1689.6 970.1v-4.7M1692.6 969.8v-6.3M1703.7 988.3v4.6M1725.8 989.5v5.2M1726.8 970.8v-9.3M1727.9 970.8v-6.3M1735.9 990.0v5.6M1736.9 970.8v-6.5M1742.0 990.3v5.9M1744.0 990.4v5.7M1748.0 971.2v-12.2M1749.0 971.4v-6.3M1755.0 972.6v-6.8M1756.0 992.5v4.8M1758.0 992.9v6.3M1766.1 974.8v-6.4M1767.1 975.0v-5.4M1770.1 995.3v10.5M1772.2 995.6v9.2M1781.0 974.3v-8.1M1809.0 974.7v-5.6M1811.0 998.0v8.8M1821.0 963.3v-6.3M1834.0 961.0v-6.9M1843.0 967.0v-9.4M1848.0 993.4v5.5M1855.0 967.3v-12.2M1855.0 993.9v11.2M1869.0 956.0v-4.9M1882.0 953.8v-4.9M1884.0 980.6v7.1M1890.0 952.9v-11.0M1890.0 980.1v8.3M1915.0 952.1v-5.9M1917.0 971.2v6.0M1920.0 971.2v5.1M1926.0 952.3v-12.3M1943.0 952.0v-6.9M1947.0 970.1v5.4M1967.0 948.7v-5.7M1968.0 948.7v-6.2M1980.0 967.8v12.6M1988.0 945.3v-10.9M1992.2 965.5v7.1M2008.8 941.0v-12.7M2008.8 971.5v5.6M2010.9 941.0v-4.5M2022.7 943.6v-11.4M2030.3 950.3v-9.1M2031.4 980.0v5.9M2036.2 957.7v-5.5M2041.5 989.5v7.0M2046.0 990.1v5.5M2047.0 990.2v7.0M2061.1 972.0v-10.9M2063.1 991.9v5.9M2070.4 992.2v9.0M2077.8 975.5v-7.2M2079.8 992.6v12.8M2094.3 975.1v-9.6M2094.3 993.3v4.8M2095.3 975.6v-5.5M2096.4 976.0v-8.9M2102.5 978.9v-6.9M2102.5 996.2v7.2M2103.6 996.6v5.5M2112.8 998.3v12.3M2113.8 980.9v-5.8M2127.0 978.7v-11.0M2127.0 999.8v10.7M2129.0 1000.1v8.8M2130.0 978.0v-5.4M2133.0 977.2v-6.5M2143.5 983.5v-5.4M2144.6 984.1v-10.2M2161.0 989.4v-6.1M2162.0 1006.7v5.3M2170.0 1007.5v10.9M2173.1 1007.8v12.9M2177.1 991.0v-6.3M2178.1 990.9v-6.5M2179.2 990.9v-6.2M2186.4 990.4v-4.7M2192.7 989.9v-6.7M2193.7 989.9v-5.8M2208.4 992.6v-6.6M2209.4 1010.1v5.7M2216.8 995.4v-10.9M2220.8 1011.4v5.0M2225.9 1010.9v8.8M2230.9 1010.4v6.5M2231.9 1010.3v7.6M2235.9 1009.9v5.1M2237.0 1009.8v7.8M2238.0 1009.7v6.7M2247.0 1009.0v10.6M2248.0 1009.0v6.2M2256.1 1008.6v12.8M2261.1 989.9v-4.6M2263.2 989.8v-7.8M2264.2 989.7v-4.7M2265.2 989.7v-5.6M2265.2 1008.1v9.4M2269.2 1007.7v5.2M2276.3 987.9v-10.5M2276.3 1006.0v5.5M2280.3 1004.9v6.5M2300.7 987.9v-6.3M2301.8 988.4v-9.4M2309.1 1009.0v8.5M2311.2 1010.0v10.3M2322.4 991.7v-4.9M2323.4 1009.2v11.2M2324.4 991.3v-4.9M2325.4 991.2v-6.4M2326.4 1008.8v10.1M2330.5 1008.3v7.0M2337.6 1007.4v6.4M2339.6 988.9v-9.1M2344.7 988.1v-6.0M2349.7 1005.5v10.4M2353.8 986.7v-5.4M2358.8 1003.6v10.2M2361.8 985.5v-6.0M2362.9 985.4v-6.6M2365.9 984.9v-10.1M2396.1 988.1v-5.1M2407.2 1004.2v6.6M2408.2 1004.2v7.0M2415.3 987.2v-12.9M2422.3 986.8v-6.8M2425.3 1003.9v5.5M2427.4 986.6v-10.6M2433.4 986.3v-6.2M2434.4 986.2v-4.6M2437.4 986.1v-5.1M2438.5 986.0v-6.6M2438.5 1003.2v5.9M2445.5 1002.9v4.6M2448.6 1002.9v5.5M2456.7 1002.9v8.0M2459.8 1002.9v6.6M2465.9 985.7v-5.0M2471.0 985.7v-4.7M2473.0 985.7v-7.0M2474.0 1002.9v4.9M2480.1 985.7v-4.7M2482.1 985.7v-6.9M2491.5 989.1v-8.6M2492.5 989.6v-4.6M2498.8 1012.0v6.6M2508.3 994.4v-5.6M2509.3 994.0v-5.4M2521.9 989.9v-4.7M2538.6 998.6v-9.7M2540.6 1019.0v5.0M2558.8 1000.6v-6.4M2565.8 1000.8v-4.6M2566.8 1000.8v-8.9M2569.9 1000.8v-12.0M2577.9 1018.9v6.6M2585.0 1019.2v8.0M2588.0 1000.6v-6.6M2599.1 999.5v-6.7M2601.1 1018.5v4.8M2607.1 998.7v-5.4M2609.1 1018.1v6.0M2617.1 997.7v-12.2M2626.2 996.8v-5.0M2627.2 996.7v-7.9M2630.3 1014.2v10.2M2645.4 996.7v-10.7M2663.5 998.6v-11.0M2673.6 1018.6v4.8M2676.6 1018.8v12.2M2685.7 1019.2v8.5M2699.8 1002.0v-6.4M2700.8 1002.0v-11.2M2701.8 1019.3v4.6M2708.9 1002.0v-11.2M2731.1 1019.3v6.3M2755.8 1009.6v5.3M2764.2 991.2v-6.5M2771.5 1011.3v6.5M2773.6 994.4v-12.3M2784.9 995.1v-12.2M2785.9 995.0v-5.3M2790.9 994.5v-8.8M2791.9 1011.6v10.2M2792.9 994.3v-5.3M2804.1 993.0v-5.7M2804.1 1010.3v8.3M2854.7 981.2v-5.1M2857.8 981.3v-6.8M2857.8 998.5v6.0M2863.9 998.8v7.8M2868.1 998.9v5.9M2870.1 999.0v4.6M2871.2 999.1v6.1M2875.2 999.7v6.5M2887.4 1002.1v9.1M2888.5 1002.4v6.9M2896.6 984.8v-6.5M2897.6 1004.2v9.5M2898.6 1004.4v9.1M2899.6 1004.6v5.6M2912.8 987.1v-5.1M2913.8 987.2v-8.0M2916.8 987.7v-13.0M2918.8 1005.4v5.2M2919.8 1005.4v10.6M2924.9 988.9v-7.8M2932.9 989.3v-8.2M2939.0 989.0v-7.7M2939.0 1004.9v5.7M2954.1 988.2v-9.1M2954.1 1004.2v7.5M2958.3 1004.2v12.0M2961.4 1004.2v5.7M2967.8 1004.2v6.3M2970.9 987.1v-12.0M2970.9 1004.2v6.6M2971.9 1004.2v6.1M2974.1 986.9v-9.8M2975.1 986.9v-9.8M2989.8 985.8v-12.9M2993.0 986.3v-5.9M2996.1 987.9v-6.4M2997.2 988.5v-7.3M2997.2 1005.7v10.4M2998.2 1006.3v11.9M3002.4 1008.5v4.5M3007.7 994.1v-5.1M3014.8 1013.4v12.5M3018.9 996.8v-5.7M3021.9 1014.1v6.4M3026.0 1014.5v7.6M3028.0 997.9v-12.3M3031.0 1014.8v5.7M3035.0 1014.3v8.1M3046.1 995.4v-7.5M3049.1 1012.7v10.1M3053.1 994.4v-6.6M3057.2 1013.0v8.9M3059.2 995.3v-12.7M3062.2 995.7v-6.1M3068.3 996.6v-5.2M3069.4 1014.8v7.8M3073.4 1015.3v8.1M3090.6 996.2v-12.4M3096.7 1012.5v5.6M3119.5 997.1v-6.5M3120.5 997.3v-10.5M3123.5 1017.8v6.0M3125.5 1017.9v4.8M3126.5 998.3v-11.4M3133.6 1018.4v9.5M3141.6 1000.8v-5.5M3148.8 1019.3v12.2M3149.8 1000.8v-8.9M3152.9 1019.6v6.8M3162.2 1001.2v-4.7M3163.2 1020.7v5.1M3172.5 1022.6v5.2M3176.6 1023.4v4.6M3181.8 1005.2v-6.0M3194.8 1008.3v10.0M3196.8 1008.2v5.3M3205.1 1007.8v4.6M3207.1 988.7v-4.7M3213.3 987.4v-10.4M3214.3 987.1v-6.3M3215.3 1007.2v5.6M3221.6 986.0v-6.7M3225.7 1005.5v9.9M3241.3 984.5v-5.0M3243.3 984.9v-6.9M3244.4 985.1v-7.2M3245.4 985.3v-10.4M3254.6 987.2v-4.7M3279.3 989.0v-6.4M3282.3 1005.8v5.7M3295.3 1005.8v6.4M3298.3 988.0v-6.5M3307.4 988.3v-6.8M3310.5 988.6v-5.3M3311.5 988.7v-5.0M3316.7 1005.8v5.4M3317.7 989.5v-5.8M3324.9 1005.8v12.3M3325.9 1005.8v6.2M289.6 962.8h22M300.6 951.8v22M307.0 983.0h22M318.0 972.0v22M319.0 987.0h22M330.0 976.0v22M336.0 971.0h22M347.0 960.0v22M355.0 974.0h22M366.0 963.0v22M255.0 1046.6h22M266.0 1035.6v22M258.0 1052.0h22M269.0 1041.0v22M256.9 1064.2h22M267.9 1053.2v22M346.0 968.0h22M357.0 957.0v22M349.0 972.0h22M360.0 961.0v22M312.0 985.0h22M323.0 974.0v22M526.8 964.0h22M537.8 953.0v22M525.5 975.4h22M536.5 964.4v22M664.4 1033.0h22M675.4 1022.0v22M782.8 934.7h22M793.8 923.7v22M804.0 985.4h22M815.0 974.4v22M959.2 939.0h22M970.2 928.0v22M958.5 941.5h22M969.5 930.5v22M957.3 964.9h22M968.3 953.9v22M947.8 972.8h22M958.8 961.8v22M921.8 1014.2h22M932.8 1003.2v22M913.8 1037.5h22M924.8 1026.5v22M980.6 1014.0h22M991.6 1003.0v22M992.5 1026.6h22M1003.5 1015.6v22M1018.4 1044.2h22M1029.4 1033.2v22M1037.3 1014.9h22M1048.3 1003.9v22M1026.0 980.0h22M1037.0 969.0v22M1145.1 1031.1h22M1156.1 1020.1v22M1164.9 1020.8h22M1175.9 1009.8v22M1173.4 1039.0h22M1184.4 1028.0v22M1178.1 1048.2h22M1189.1 1037.2v22M1191.1 1032.1h22M1202.1 1021.1v22M1261.8 1038.4h22M1272.8 1027.4v22M1271.3 1042.2h22M1282.3 1031.2v22M1278.0 1038.4h22M1289.0 1027.4v22M1281.9 1063.6h22M1292.9 1052.6v22M1302.8 1038.4h22M1313.8 1027.4v22M1333.0 1052.2h22M1344.0 1041.2v22M1698.4 1018.1h22M1709.4 1007.1v22M1734.7 1007.9h22M1745.7 996.9v22M1886.1 948.0h22M1897.1 937.0v22M1825.6 958.0h22M1836.6 947.0v22M1861.5 955.0h22M1872.5 944.0v22M2001.0 939.0h22M2012.0 928.0v22M2010.0 938.6h22M2021.0 927.6v22M2011.0 966.0h22M2022.0 955.0v22M2011.0 979.5h22M2022.0 968.5v22M2017.0 985.0h22M2028.0 974.0v22M2732.8 985.5h22M2743.8 974.5v22M2659.3 995.6h22M2670.3 984.6v22M2788.4 982.3h22M2799.4 971.3v22M2964.5 959.4h22M2975.5 948.4v22M3130.7 976.2h22M3141.7 965.2v22M3129.6 987.3h22M3140.6 976.3v22M3275.4 978.8h22M3286.4 967.8v22M3306.2 957.7h22M3317.2 946.7v22M3314.9 998.1h22M3325.9 987.1v22M3095.0 1002.0h22M3106.0 991.0v22M3106.0 1003.0h22M3117.0 992.0v22M3189.0 1019.0h22M3200.0 1008.0v22M3177.0 999.0h22M3188.0 988.0v22M226.1 991.5h22M237.1 980.5v22M226.1 1007.0h22M237.1 996.0v22M2962.5 1660.8h22M2973.5 1649.8v22" stroke="#2236fe" stroke-width="3" stroke-linecap="round" fill="none"/>
<path d="M237.1 1986.7V1965.2M237.1 66.7V88.2M494.3 1986.7V1965.2M494.3 66.7V88.2M751.5 1986.7V1965.2M751.5 66.7V88.2M1009.5 1986.7V1965.2M1009.5 66.7V88.2M1266.7 1986.7V1965.2M1266.7 66.7V88.2M1523.9 1986.7V1965.2M1523.9 66.7V88.2M1781.1 1986.7V1965.2M1781.1 66.7V88.2M2039.1 1986.7V1965.2M2039.1 66.7V88.2M2296.3 1986.7V1965.2M2296.3 66.7V88.2M2553.5 1986.7V1965.2M2553.5 66.7V88.2M2810.7 1986.7V1965.2M2810.7 66.7V88.2M3068.7 1986.7V1965.2M3068.7 66.7V88.2M3325.9 1986.7V1965.2M3325.9 66.7V88.2M237.1 1986.7H258.6M3325.9 1986.7H3304.4M237.1 1602.7H258.6M3325.9 1602.7H3304.4M237.1 1218.7H258.6M3325.9 1218.7H3304.4M237.1 834.7H258.6M3325.9 834.7H3304.4M237.1 450.7H258.6M3325.9 450.7H3304.4M237.1 66.7H258.6M3325.9 66.7H3304.4" stroke="#000" stroke-width="3" fill="none"/>
<rect x="237.1" y="66.7" width="3088.8" height="1920.0" fill="none" stroke="#000" stroke-width="3.7" stroke-linejoin="round"/>
<g font-family="Liberation Serif, Times New Roman, serif" font-size="45" fill="#000">
<text transform="translate(211.4 1996.1) scale(0.975 1.015)" text-anchor="end">0</text>
<text transform="translate(212.5 1612.1) scale(0.975 1.015)" text-anchor="end">20</text>
<text transform="translate(211.5 1228.1) scale(0.975 1.015)" text-anchor="end">40</text>
<text transform="translate(212.5 844.1) scale(0.975 1.015)" text-anchor="end">60</text>
<text transform="translate(213.3 460.1) scale(0.975 1.015)" text-anchor="end">80</text>
<text transform="translate(215.8 76.1) scale(0.975 1.015)" text-anchor="end">100</text>
<text transform="translate(237.1 2061) scale(0.97 1)" text-anchor="middle">Jan-02</text>
<text transform="translate(494.3 2061) scale(0.97 1)" text-anchor="middle">Jan-03</text>
<text transform="translate(751.5 2061) scale(0.97 1)" text-anchor="middle">Jan-04</text>
<text transform="translate(1009.5 2061) scale(0.97 1)" text-anchor="middle">Jan-05</text>
<text transform="translate(1266.7 2061) scale(0.97 1)" text-anchor="middle">Jan-06</text>
<text transform="translate(1523.9 2061) scale(0.97 1)" text-anchor="middle">Jan-07</text>
<text transform="translate(1781.1 2061) scale(0.97 1)" text-anchor="middle">Jan-08</text>
<text transform="translate(2039.1 2061) scale(0.97 1)" text-anchor="middle">Jan-09</text>
<text transform="translate(2296.3 2061) scale(0.97 1)" text-anchor="middle">Jan-10</text>
<text transform="translate(2553.5 2061) scale(0.97 1)" text-anchor="middle">Jan-11</text>
<text transform="translate(2810.7 2061) scale(0.97 1)" text-anchor="middle">Jan-12</text>
<text transform="translate(3068.7 2061) scale(0.97 1)" text-anchor="middle">Jan-13</text>
<text transform="translate(3325.9 2061) scale(0.97 1)" text-anchor="middle">Jan-14</text>
<text transform="translate(1781.5 2160) scale(0.985 1)" text-anchor="middle">Date</text>
<text transform="translate(57.7 1026.5) rotate(-90) scale(0.983 1)" text-anchor="middle">IPv4 BGP Specifics %</text>
</g>
</svg>
</body></html>
